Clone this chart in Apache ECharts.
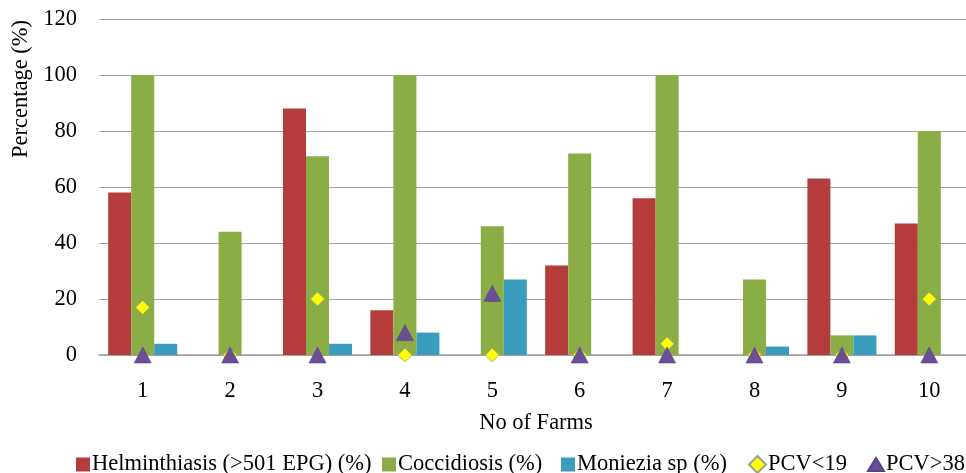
<!DOCTYPE html>
<html>
<head>
<meta charset="utf-8">
<script src="https://cdn.jsdelivr.net/npm/echarts@6/dist/echarts.min.js"></script>
<style>
html,body{margin:0;padding:0;background:#fff;}
#chart{width:966px;height:473px;}
</style>
</head>
<body>
<div id="chart"></div>
<script>
var farms = ['1','2','3','4','5','6','7','8','9','10'];
var helminthiasis = [58, 0, 88, 16, 0, 32, 56, 0, 63, 47];
var coccidiosis = [100, 44, 71, 100, 46, 72, 100, 27, 7, 80];
var moniezia = [4, 0, 4, 8, 27, 0, 0, 3, 7, 0];
var pcvLow = [17, 0, 20, 0, 0, 0, 4, 0, 0, 20];
var pcvHigh = [0, 0, 0, 8, 22, 0, 0, 0, 0, 0];
var yTicks = [0, 20, 40, 60, 80, 100, 120];
var seriesNames = ['Helminthiasis (>501 EPG) (%)', 'Coccidiosis (%)', 'Moniezia sp (%)', 'PCV<19', 'PCV>38'];

var font = 'Liberation Serif, Times New Roman, serif';
var fs = 22.5;

function mkLegend(name, icon, left, w, h, top) {
  return {
    left: left, top: top,
    padding: 0,
    itemWidth: w, itemHeight: h, itemGap: 0,
    textStyle: {fontFamily: font, fontSize: fs, color: '#000', padding: [0, 0, 0, -3]},
    data: [{name: name, icon: icon}]
  };
}

var chart = echarts.init(document.getElementById('chart'), null, {renderer: 'canvas'});
var option = {
  animation: false,
  backgroundColor: '#ffffff',
  textStyle: {fontFamily: font, color: '#000'},
  grid: {left: 99, top: 19, width: 874, height: 336, outerBoundsMode: 'none', containLabel: false},
  legend: [
    mkLegend(seriesNames[0], 'rect', 76, 14, 14, 453),
    mkLegend(seriesNames[1], 'rect', 382, 14, 14, 453),
    mkLegend(seriesNames[2], 'rect', 561, 14, 14, 453),
    mkLegend(seriesNames[3], 'diamond', 748, 17, 17, 453),
    mkLegend(seriesNames[4], 'triangle', 867, 16, 13, 453)
  ],
  xAxis: {
    type: 'category',
    data: farms,
    boundaryGap: true,
    name: 'No of Farms',
    nameLocation: 'middle',
    nameGap: 57,
    nameTextStyle: {fontFamily: font, fontSize: fs, color: '#000'},
    axisLine: {lineStyle: {color: '#a0a0a0', width: 1.5}},
    axisTick: {show: false},
    axisLabel: {fontFamily: font, fontSize: fs, color: '#000', margin: 25}
  },
  yAxis: {
    type: 'value',
    min: 0, max: 120, interval: 20,
    name: 'Percentage (%)',
    nameLocation: 'middle',
    nameRotate: 90,
    nameGap: 66,
    nameTextStyle: {fontFamily: font, fontSize: fs, color: '#000', padding: [0, 0, 0, 196]},
    axisLine: {show: false},
    axisTick: {show: false},
    axisLabel: {fontFamily: font, fontSize: fs, color: '#000', margin: 22,
      formatter: function (v) { return yTicks.indexOf(v) >= 0 ? String(v) : ''; }},
    splitLine: {lineStyle: {color: '#a6a6a6', width: 1}}
  },
  series: [
    {name: seriesNames[0], type: 'bar', data: helminthiasis,
      barGap: '0%', barCategoryGap: '21%',
      itemStyle: {color: '#b43c3a'}},
    {name: seriesNames[1], type: 'bar', data: coccidiosis,
      itemStyle: {color: '#8bad46'}},
    {name: seriesNames[2], type: 'bar', data: moniezia,
      itemStyle: {color: '#3a9dbd'}},
    {name: seriesNames[3], type: 'scatter', data: pcvLow, symbol: 'diamond', symbolSize: 14, z: 3,
      itemStyle: {color: '#ffff00', borderColor: '#9aa08a', borderWidth: 0.8, opacity: 1}},
    {name: seriesNames[4], type: 'scatter', data: pcvHigh, symbol: 'triangle', symbolSize: [17, 16], z: 4,
      itemStyle: {color: '#6b4f96', borderColor: '#5b4285', borderWidth: 0.6, opacity: 1}}
  ]
};
chart.setOption(option);
</script>
</body>
</html>
